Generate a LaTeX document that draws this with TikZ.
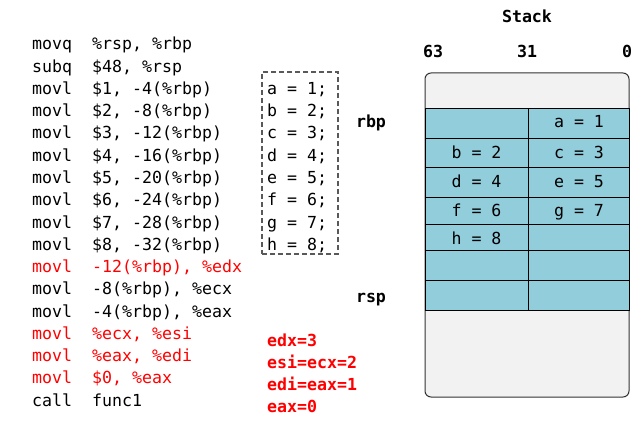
\documentclass[tikz,border=0pt]{standalone}
\usepackage{fontspec}
\setmonofont{DejaVu Sans Mono}
\definecolor{cellblue}{HTML}{92CDDC}
\definecolor{stackgray}{HTML}{F2F2F2}
\definecolor{boxgray}{HTML}{595959}
\newcommand\codesize{\ttfamily\fontsize{16.6}{20}\selectfont}
\newcommand\asmline[4]{%
  \node[code,text=#4] (m#1) at (32,{50+22.25*#1}) {#2};
  \node[code,text=#4] (o#1) at (92,{50+22.25*#1}) {#3};}
\newcommand\srcline[2]{%
  \node[code] (v#1) at (267,{50+22.25*#1}) {#2};}
\begin{document}
\begin{tikzpicture}[x=1pt,y=-1pt,
  code/.style={anchor=base west,inner sep=0pt,font=\codesize},
  lbl/.style={anchor=base,inner sep=0pt,font=\codesize\bfseries},
  celltxt/.style={anchor=base,inner sep=0pt,font=\codesize},
  redlbl/.style={anchor=base west,inner sep=0pt,font=\codesize\bfseries,text=red},
  cellbox/.style={draw=black,line width=0.9pt,fill=cellblue},
  dashbox/.style={draw=boxgray,dash pattern=on 5pt off 3pt,line width=1.1pt,minimum width=76pt,minimum height=182pt,inner sep=0pt}]
\useasboundingbox (0,0) rectangle (643,428);
% code
\asmline{0}{movq}{\%rsp, \%rbp}{black}
\asmline{1}{subq}{\$48, \%rsp}{black}
\asmline{2}{movl}{\$1, -4(\%rbp)}{black}
\asmline{3}{movl}{\$2, -8(\%rbp)}{black}
\asmline{4}{movl}{\$3, -12(\%rbp)}{black}
\asmline{5}{movl}{\$4, -16(\%rbp)}{black}
\asmline{6}{movl}{\$5, -20(\%rbp)}{black}
\asmline{7}{movl}{\$6, -24(\%rbp)}{black}
\asmline{8}{movl}{\$7, -28(\%rbp)}{black}
\asmline{9}{movl}{\$8, -32(\%rbp)}{black}
\asmline{10}{movl}{-12(\%rbp), \%edx}{red}
\asmline{11}{movl}{-8(\%rbp), \%ecx}{black}
\asmline{12}{movl}{-4(\%rbp), \%eax}{black}
\asmline{13}{movl}{\%ecx, \%esi}{red}
\asmline{14}{movl}{\%eax, \%edi}{red}
\asmline{15}{movl}{\$0, \%eax}{red}
\asmline{16}{call}{func1}{black}
% dashed box with C statements
\node[dashbox] (vbox) at (300,163) {};
\srcline{2}{a = 1;}
\srcline{3}{b = 2;}
\srcline{4}{c = 3;}
\srcline{5}{d = 4;}
\srcline{6}{e = 5;}
\srcline{7}{f = 6;}
\srcline{8}{g = 7;}
\srcline{9}{h = 8;}
% red register values
\node[redlbl] (r1) at (267,346.5) {edx=3};
\node[redlbl] (r2) at (267,368.5) {esi=ecx=2};
\node[redlbl] (r3) at (267,390.5) {edi=eax=1};
\node[redlbl] (r4) at (267,412.5) {eax=0};
% stack
\node[lbl] (title) at (527,23) {Stack};
\node[lbl] (b63) at (433,58) {63};
\node[lbl] (b31) at (527,58) {31};
\node[lbl] (b0) at (627,58) {0};
\node[lbl] (rbp) at (371,127) {rbp};
\node[lbl] (rsp) at (371,302) {rsp};
\draw[draw=black!80,line width=1pt,fill=stackgray,rounded corners=6pt] (425,73) rectangle (629,397);
\foreach \t/\b in {108/138,138/167,167/197,197/224,224/250,250/280,280/310}{
  \draw[cellbox] (425.5,\t) rectangle (528,\b);
  \draw[cellbox] (528,\t) rectangle (629.5,\b);
}
\node[celltxt] (ca) at (579,128) {a = 1};
\node[celltxt] (cb) at (476.5,158) {b = 2};
\node[celltxt] (cc) at (579,158) {c = 3};
\node[celltxt] (cd) at (476.5,187) {d = 4};
\node[celltxt] (ce) at (579,187) {e = 5};
\node[celltxt] (cf) at (476.5,216.5) {f = 6};
\node[celltxt] (cg) at (579,216.5) {g = 7};
\node[celltxt] (ch) at (476.5,244) {h = 8};
\end{tikzpicture}
\end{document}
